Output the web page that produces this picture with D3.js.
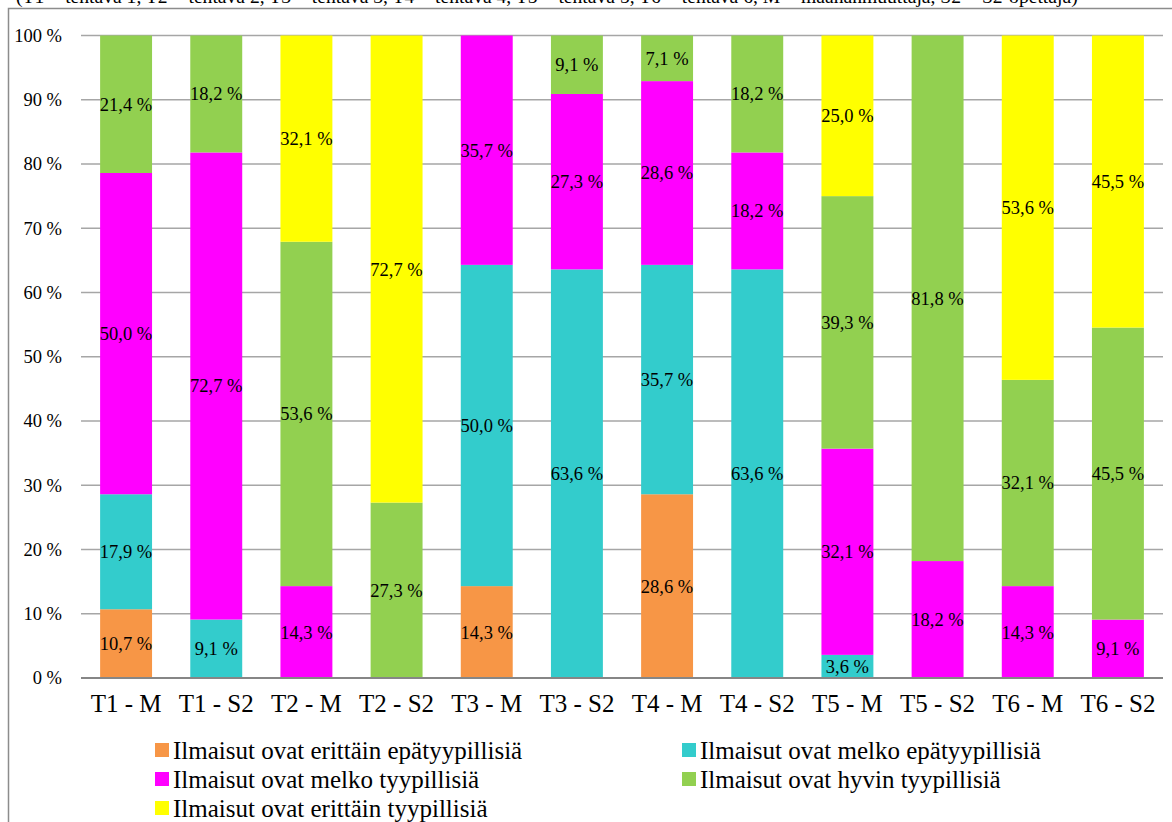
<!DOCTYPE html>
<html>
<head>
<meta charset="utf-8">
<script src="https://cdn.jsdelivr.net/npm/d3@7"></script>
<style>
  html, body { margin: 0; padding: 0; background: #fff; overflow: hidden; }
  svg { display: block; font-family: "Liberation Serif", "Times New Roman", serif; }
</style>
</head>
<body>
<svg id="chart" width="1172" height="822"></svg>
<script>
// Categories (tehtävä + vastaajaryhmä)
const categories = ["T1 - M", "T1 - S2", "T2 - M", "T2 - S2", "T3 - M", "T3 - S2",
                    "T4 - M", "T4 - S2", "T5 - M", "T5 - S2", "T6 - M", "T6 - S2"];

// Series, stacked from bottom to top (percent)
const seriesNames = [
  "Ilmaisut ovat erittäin epätyypillisiä",
  "Ilmaisut ovat melko epätyypillisiä",
  "Ilmaisut ovat melko tyypillisiä",
  "Ilmaisut ovat hyvin tyypillisiä",
  "Ilmaisut ovat erittäin tyypillisiä"
];
const erittainEpatyypillisia = [10.7, 0, 0, 0, 14.3, 0, 28.6, 0, 0, 0, 0, 0];
const melkoEpatyypillisia    = [17.9, 9.1, 0, 0, 50.0, 63.6, 35.7, 63.6, 3.6, 0, 0, 0];
const melkoTyypillisia       = [50.0, 72.7, 14.3, 0, 35.7, 27.3, 28.6, 18.2, 32.1, 18.2, 14.3, 9.1];
const hyvinTyypillisia       = [21.4, 18.2, 53.6, 27.3, 0, 9.1, 7.1, 18.2, 39.3, 81.8, 32.1, 45.5];
const erittainTyypillisia    = [0, 0, 32.1, 72.7, 0, 0, 0, 0, 25.0, 0, 53.6, 45.5];

const yTicks = [0, 10, 20, 30, 40, 50, 60, 70, 80, 90, 100];
const titleText = "(T1 = tehtävä 1, T2 = tehtävä 2, T3 = tehtävä 3, T4 = tehtävä 4, T5 = tehtävä 5, T6 = tehtävä 6, M = maahanmuuttaja, S2 = S2-opettaja)";

const colors = ["#F79646", "#33CCCC", "#FF00FF", "#92D050", "#FFFF00"];
const seriesValues = [erittainEpatyypillisia, melkoEpatyypillisia, melkoTyypillisia,
                      hyvinTyypillisia, erittainTyypillisia];

const fmt = v => v.toFixed(1).replace(".", ",") + " %";

const svg = d3.select("#chart");

// Title line, running off the top edge
svg.append("text")
  .attr("x", 16).attr("y", 3)
  .attr("font-size", 19.6)
  .attr("fill", "#000")
  .text(titleText);

// Chart frame
svg.append("rect")
  .attr("x", 8.5).attr("y", 8.5)
  .attr("width", 1300).attr("height", 1000)
  .attr("fill", "#fff")
  .attr("stroke", "#8c8c8c")
  .attr("stroke-width", 1.5);

const plot = { left: 81, right: 1163, top: 35.5, bottom: 678 };

const x = d3.scaleBand()
  .domain(categories)
  .range([plot.left, plot.right])
  .paddingInner(0.424)
  .paddingOuter(0.212);

const y = d3.scaleLinear().domain([0, 100]).range([plot.bottom, plot.top]);

// Gridlines
svg.append("g")
  .selectAll("line")
  .data(yTicks.filter(t => t > 0))
  .join("line")
  .attr("x1", plot.left).attr("x2", plot.right)
  .attr("y1", d => y(d)).attr("y2", d => y(d))
  .attr("stroke", "#a6a6a6")
  .attr("stroke-width", 1.5);

// Build stack data (normalized per category, as in a 100 % stacked chart)
const rows = categories.map((c, i) => {
  const row = { cat: c };
  const total = d3.sum(seriesValues, s => s[i]);
  seriesNames.forEach((n, k) => { row[n] = seriesValues[k][i] / total * 100; row[n + "_raw"] = seriesValues[k][i]; });
  return row;
});

const stacked = d3.stack().keys(seriesNames)(rows);

const layers = svg.append("g")
  .selectAll("g")
  .data(stacked)
  .join("g")
  .attr("fill", (d, i) => colors[i]);

layers.selectAll("rect")
  .data(d => d.filter(p => p[1] - p[0] > 0))
  .join("rect")
  .attr("x", p => x(p.data.cat))
  .attr("width", x.bandwidth())
  .attr("y", p => y(p[1]))
  .attr("height", p => y(p[0]) - y(p[1]));

// Value labels
stacked.forEach((layer, k) => {
  svg.append("g")
    .selectAll("text")
    .data(layer.filter(p => p[1] - p[0] > 0))
    .join("text")
    .attr("x", p => x(p.data.cat) + x.bandwidth() / 2)
    .attr("y", p => y((p[0] + p[1]) / 2))
    .attr("dy", "0.35em")
    .attr("text-anchor", "middle")
    .attr("font-size", 18.5)
    .attr("fill", "#000")
    .text(p => fmt(p.data[seriesNames[k] + "_raw"]));
});

// Y axis
const yAxis = d3.axisLeft(y)
  .tickValues(yTicks)
  .tickSize(0)
  .tickPadding(19)
  .tickFormat(d => d + " %");

const gy = svg.append("g")
  .attr("transform", `translate(${plot.left},0)`)
  .call(yAxis);
gy.select(".domain").remove();
gy.selectAll("text")
  .attr("font-family", "Liberation Serif, Times New Roman, serif")
  .attr("font-size", 18.5)
  .attr("fill", "#000");

// X axis
const xAxis = d3.axisBottom(x).tickSize(0).tickPadding(16);
const gx = svg.append("g")
  .attr("transform", `translate(0,${plot.bottom})`)
  .call(xAxis);
gx.select(".domain")
  .attr("d", `M${plot.left},0H${plot.right}`)
  .attr("stroke", "#868686")
  .attr("stroke-width", 2);
gx.selectAll("text")
  .attr("font-family", "Liberation Serif, Times New Roman, serif")
  .attr("font-size", 25)
  .attr("fill", "#000");

// Legend
const legendPos = [
  { x: 155, y: 743 }, { x: 682, y: 743 },
  { x: 155, y: 772 }, { x: 682, y: 772 },
  { x: 155, y: 801 }
];
const legend = svg.append("g")
  .selectAll("g")
  .data(seriesNames)
  .join("g")
  .attr("transform", (d, i) => `translate(${legendPos[i].x},${legendPos[i].y})`);

legend.append("rect")
  .attr("width", 14).attr("height", 14)
  .attr("fill", (d, i) => colors[i]);

legend.append("text")
  .attr("x", 18).attr("y", 7)
  .attr("dy", "0.35em")
  .attr("font-size", 25)
  .attr("fill", "#000")
  .text(d => d);
</script>
</body>
</html>
